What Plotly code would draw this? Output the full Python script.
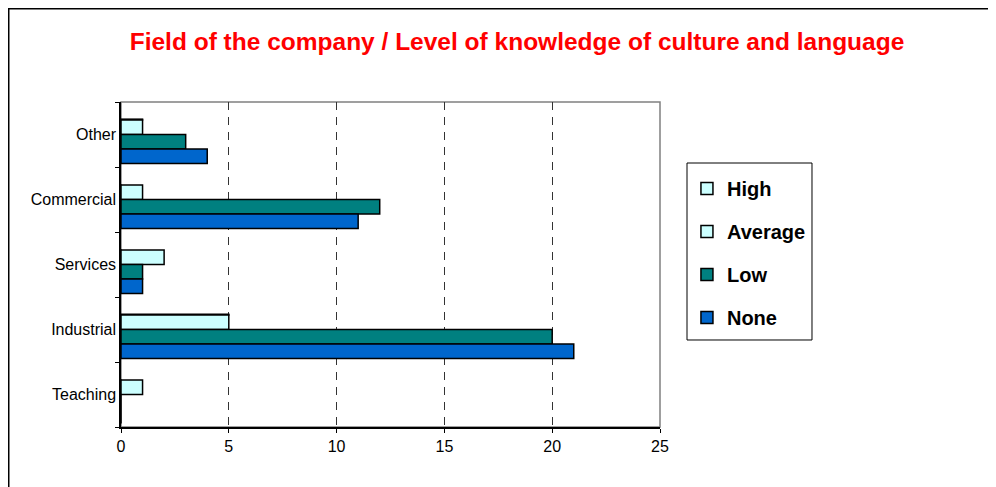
import plotly.graph_objects as go

# categories listed bottom to top, as they sit on the axis
fields = ["Teaching", "Industrial", "Services", "Commercial", "Other"]

high = [0, 5, 0, 0, 1]
average = [1, 5, 2, 1, 1]
low = [0, 20, 1, 12, 3]
none = [0, 21, 1, 11, 4]

x_ticks = [0, 5, 10, 15, 20, 25]

FONT = "Liberation Sans, Arial, sans-serif"
slot = 0.224

fig = go.Figure()

series = [
    ("High", high, "#CCFFFF", slot, 0.012),
    ("Average", average, "#CCFFFF", 0, slot),
    ("Low", low, "#008080", -slot, slot),
    ("None", none, "#0066CC", -2 * slot, slot),
]
for name, vals, color, off, w in series:
    fig.add_trace(
        go.Bar(
            y=fields,
            x=vals,
            orientation="h",
            name=name,
            legendgroup=name,
            offset=off,
            width=w,
            marker=dict(color=color, line=dict(color="black", width=1.5)),
        )
    )

# plot area frame (grey), outer chart border, legend box
fig.add_shape(type="rect", xref="paper", yref="paper", x0=0, x1=1, y0=0, y1=1,
              line=dict(color="#808080", width=1.5), layer="below")
fig.add_shape(type="rect", xref="paper", yref="paper",
              x0=-0.20826, x1=2.0, y0=-0.4, y1=1.28692,
              line=dict(color="black", width=1.5), layer="below")
fig.add_shape(type="rect", xref="paper", yref="paper",
              x0=1.0501, x1=1.2820, y0=0.2677, y1=0.8123,
              line=dict(color="black", width=1), fillcolor="white", layer="below")

# page body adds an 8px margin, so the figure is drawn 8px up/left of the target
fig.update_layout(
    width=996,
    height=487,
    margin=dict(l=113, r=344, t=94, b=68),
    paper_bgcolor="white",
    plot_bgcolor="white",
    barmode="overlay",
    showlegend=True,
    font=dict(family=FONT, color="black"),
    title=dict(
        text="<b>Field of the company / Level of knowledge of culture and language</b>",
        font=dict(family=FONT, size=24.5, color="#FF0000"),
        x=509 / 996,
        xanchor="center",
        y=1 - 33 / 487,
        yanchor="middle",
    ),
    legend=dict(
        x=1.050,
        xanchor="left",
        y=0.7935,
        yanchor="top",
        bgcolor="rgba(0,0,0,0)",
        borderwidth=0,
        font=dict(family=FONT, size=20, color="black", weight="bold"),
        tracegroupgap=14,
        itemwidth=30,
    ),
)

fig.update_xaxes(
    range=[0, 25],
    tickvals=x_ticks,
    showgrid=True,
    gridcolor="#333333",
    griddash="8px,7px",
    gridwidth=1,
    showline=True,
    linecolor="black",
    linewidth=1.5,
    ticks="outside",
    ticklen=4,
    tickcolor="black",
    tickfont=dict(size=16, family=FONT),
    zeroline=False,
    fixedrange=True,
)
fig.update_yaxes(
    type="category",
    categoryorder="array",
    categoryarray=fields,
    range=[-0.5, 4.5],
    showgrid=False,
    showline=True,
    linecolor="black",
    linewidth=1.5,
    ticks="outside",
    tickson="boundaries",
    ticklen=4,
    tickcolor="black",
    tickfont=dict(size=16, family=FONT),
    ticklabelstandoff=0,
    fixedrange=True,
)

fig.write_html("out.html")
